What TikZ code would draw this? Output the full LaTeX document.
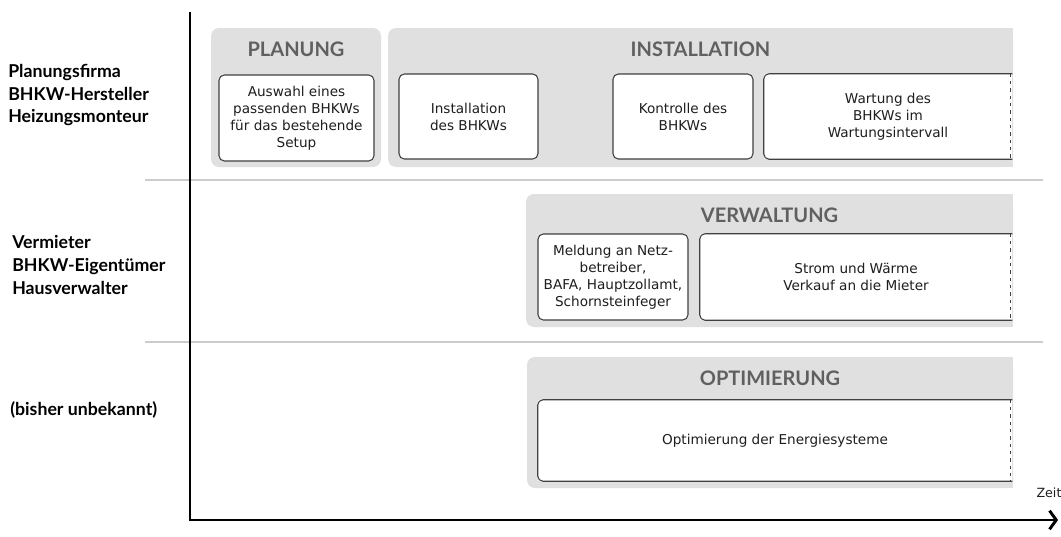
\documentclass[tikz,border=0pt]{standalone}
\usepackage{fontspec}
\setmainfont{DejaVu Sans}
\newfontfamily\labfont{Lato}
\usetikzlibrary{arrows.meta,positioning}
\definecolor{grpgray}{HTML}{E0E0E0}
\definecolor{titlegray}{HTML}{606060}
\definecolor{boxtext}{HTML}{1E1E1E}

\begin{document}
\begin{tikzpicture}[x=0.75pt,y=-0.75pt,node distance=6pt,
    every node/.append style={align=center},
    grp/.style={fill=grpgray, rounded corners=6pt, inner sep=0pt},
    box/.style={draw=black!75, fill=white, rounded corners=4pt, line width=0.8pt, inner sep=0pt,
      text=boxtext, font=\fontsize{10.2}{12.75}\selectfont},
    openbox/.style={fill=white, inner sep=0pt, text=boxtext, font=\fontsize{10.2}{12.75}\selectfont},
    boxline/.style={draw=black!75, line width=0.8pt},
    title/.style={font=\labfont\bfseries\fontsize{15}{17}\selectfont, text=titlegray},
    actor/.style={font=\labfont\bfseries\fontsize{13.3}{17}\selectfont, align=left, anchor=west, inner sep=0pt},
    sep/.style={draw=black!20, line width=1pt},
    axis/.style={line width=2.2pt}]
    \useasboundingbox (0,0) rectangle (1061,536);

    % actors
    \node [actor] (firma) at (8,95)    {Planungsfirma\\BHKW-Hersteller\\Heizungsmonteur};
    \node [actor] (verm)  at (12,265)  {Vermieter\\BHKW-Eigentümer\\Hausverwalter};
    \node [actor] (unbek) at (10,410)  {(bisher unbekannt)};

    % swimlane separators
    \coordinate (s1a) at (145,180); \coordinate (s1b) at (1043,180);
    \coordinate (s2a) at (145,342); \coordinate (s2b) at (1043,342);
    \draw [sep] (s1a) -- (s1b);
    \draw [sep] (s2a) -- (s2b);

    % phases
    \node [grp, minimum width=127.5pt, minimum height=104.25pt] (plan) at (296,97.5) {};
    \node [grp, minimum width=468.75pt, minimum height=104.25pt] (inst) at (700.5,97.5) {};
    \node [grp, minimum width=365.25pt, minimum height=99.75pt] (verw) at (769.5,260.5) {};
    \node [grp, minimum width=364.5pt, minimum height=98.25pt] (opti) at (770,422.5) {};
    \foreach \g in {inst,verw,opti}
      \fill [grpgray] ([xshift=-8pt]\g.north east) rectangle (\g.south east);

    \node [title, below=7pt of plan.north] (tplan) {PLANUNG};
    \node [title, below=7pt of inst.north] (tinst) {INSTALLATION};
    \node [title, below=7pt of verw.north] (tverw) {VERWALTUNG};
    \node [title, below=7pt of opti.north] (topti) {OPTIMIERUNG};

    % tasks
    \node [box, minimum width=116.25pt, minimum height=64.5pt] (auswahl) at (296.5,118)
      {Auswahl eines\\passenden BHKWs\\für das bestehende\\Setup};
    \node [box, minimum width=104.25pt, minimum height=63.75pt] (einbau) at (468.5,116.5)
      {Installation\\des BHKWs};
    \node [box, minimum width=105pt, minimum height=63.75pt] (kontr) at (683,116.5)
      {Kontrolle des\\BHKWs};
    \node [openbox, minimum width=186pt, minimum height=63.75pt] (wart) at (888,116.5)
      {Wartung des\\BHKWs im\\Wartungsintervall};
    \node [box, minimum width=112.5pt, minimum height=64.5pt] (meld) at (613,277)
      {Meldung an Netz-\\betreiber,\\BAFA, Hauptzollamt,\\Schornsteinfeger};
    \node [openbox, minimum width=234pt, minimum height=64.5pt] (strom) at (856,277)
      {Strom und Wärme\\Verkauf an die Mieter};
    \node [openbox, minimum width=355.5pt, minimum height=60.75pt] (optbox) at (775,440.5)
      {Optimierung der Energiesysteme};

    % open ended tasks
    \foreach \b in {wart,strom,optbox} {
      \draw [boxline, rounded corners=4pt] (\b.north east) -- (\b.north west) -- (\b.south west) -- (\b.south east);
      \draw [boxline, dash pattern=on 2.5pt off 3pt] ([xshift=-1.5pt]\b.north east) -- ([xshift=-1.5pt]\b.south east);
    }

    % time axis
    \coordinate (ytop) at (190,12);
    \coordinate (origin) at (190,520);
    \coordinate (xend) at (1058,520);
    \draw [axis, -{Straight Barb[length=5pt,width=14pt]}] (ytop) -- (origin) -- (xend);
    \node [font=\fontsize{9.5}{11}\selectfont, text=boxtext] (zeit) at (1049,493) {Zeit};
\end{tikzpicture}
\end{document}
